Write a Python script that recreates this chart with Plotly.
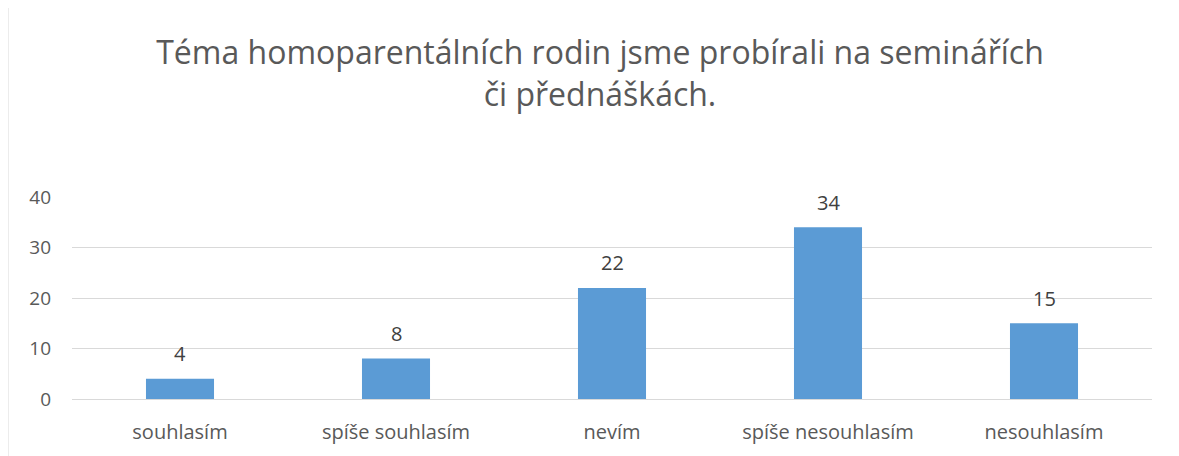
import plotly.graph_objects as go

categories = ["souhlasím", "spíše souhlasím", "nevím", "spíše nesouhlasím", "nesouhlasím"]
values = [4, 8, 22, 34, 15]
y_ticks = [0, 10, 20, 30, 40]
title_text = "Téma homoparentálních rodin jsme probírali na seminářích<br>či přednáškách."

W, H = 1179, 456
OFF = 8  # page body margin
L, R, T, B = 72 - OFF, 27 + OFF, 197 - OFF, 57 + OFF
pw, ph = W - L - R, H - T - B

fig = go.Figure()
fig.add_trace(go.Bar(
    x=categories, y=values,
    marker=dict(color="#5B9BD5", line=dict(width=0)),
    hoverinfo="x+y",
))

for c, v in zip(categories, values):
    fig.add_annotation(x=c, y=v, text=str(v), showarrow=False,
                       yanchor="middle", yshift=25,
                       font=dict(family="Open Sans", size=20, color="#404040"))

def px_x(px):
    return (px - OFF - L) / pw

def px_y(py):
    return (H - B - (py - OFF)) / ph

fig.add_shape(type="rect", xref="paper", yref="paper",
              x0=px_x(8), x1=px_x(1200), y0=px_y(7), y1=px_y(480),
              line=dict(color="#D9D9D9", width=1), fillcolor="rgba(0,0,0,0)",
              layer="below")

fig.update_layout(
    width=W, height=H,
    margin=dict(l=L, r=R, t=T, b=B),
    paper_bgcolor="white", plot_bgcolor="white",
    bargap=0.685,
    showlegend=False,
    title=dict(text=title_text, x=(600 - OFF) / W, xanchor="center",
               y=1 - 56 / H, yanchor="middle", yref="container",
               font=dict(family="Open Sans", size=32, color="#595959")),
    font=dict(family="Open Sans", color="#595959"),
    xaxis=dict(showgrid=False, showline=False, zeroline=False,
               tickfont=dict(size=20, color="#595959"),
               ticks="", ticklabelstandoff=19),
    yaxis=dict(range=[0, 40], tickvals=y_ticks, showgrid=True,
               gridcolor="#D9D9D9", gridwidth=1, zeroline=True,
               zerolinecolor="#D9D9D9", zerolinewidth=1, showline=False,
               tickfont=dict(size=19, color="#595959"),
               ticks="", ticklabelstandoff=20),
)

fig.write_html("out.html")
